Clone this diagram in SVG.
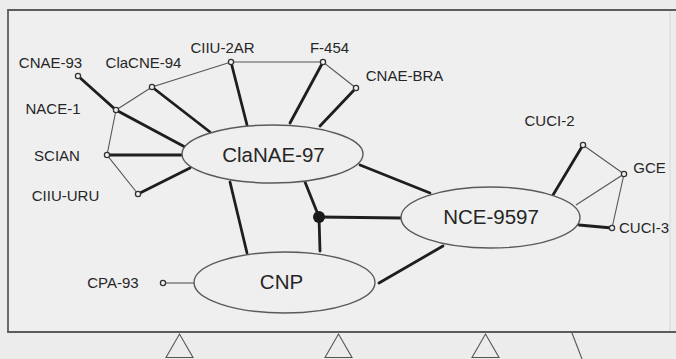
<svg xmlns="http://www.w3.org/2000/svg" width="676" height="359" viewBox="0 0 676 359">
<style>
text{font-family:"Liberation Sans",Arial,sans-serif;fill:#262626;text-anchor:middle}
.s{font-size:15px}
.b{font-size:20.5px}
.thick{stroke:#1e1e1e;stroke-width:2.8;fill:none;stroke-linecap:round}
.thin{stroke:#555;stroke-width:1.1;fill:none}
.pt{fill:#f2f2f2;stroke:#333;stroke-width:1.3}
.ell{fill:#efefef;stroke:#5a5a5a;stroke-width:1.4}
.frame{stroke:#5c5c5c;stroke-width:1.8;fill:none}
</style>
<rect x="0" y="0" width="676" height="359" fill="#ececec"/>
<rect x="8" y="10" width="662" height="322" fill="#efefef"/>
<g id="frame">
<path class="frame" d="M676 10 H8 V332 H676"/>
<line x1="670" y1="11" x2="670" y2="331" stroke="#d8d8d8" stroke-width="1"/>
<path class="thin" d="M166 357.5 L179.5 334 L193 357.5 Z M325 357.5 L338.5 334 L352 357.5 Z M472 357.5 L485.5 334 L499 357.5 Z"/>
<line x1="572" y1="333" x2="582" y2="359" stroke="#555" stroke-width="1.1"/>
</g>
<g id="connectors">
<polyline class="thick" points="78,76 116,110 185,147"/>
<line class="thick" x1="152" y1="87" x2="210" y2="132"/>
<line class="thick" x1="231" y1="62" x2="247" y2="125"/>
<line class="thick" x1="323" y1="62" x2="290" y2="123"/>
<line class="thick" x1="356" y1="88" x2="320" y2="126"/>
<line class="thick" x1="107" y1="155" x2="182" y2="155"/>
<line class="thick" x1="138" y1="194" x2="190" y2="168"/>
<line class="thick" x1="230" y1="182" x2="247" y2="253"/>
<line class="thick" x1="360" y1="165" x2="430" y2="193"/>
<line class="thick" x1="379" y1="283" x2="443" y2="246"/>
<line class="thick" x1="305" y1="182" x2="319" y2="217"/>
<line class="thick" x1="319" y1="217" x2="401" y2="218"/>
<line class="thick" x1="319" y1="217" x2="320" y2="251"/>
<line class="thick" x1="553" y1="195" x2="583" y2="145"/>
<line class="thick" x1="579" y1="225" x2="612" y2="228"/>
<polyline class="thin" points="116,110 152,87 231,62 323,62 356,88"/>
<polyline class="thin" points="116,110 107,155 138,194"/>
<line class="thin" x1="163" y1="283" x2="194" y2="283"/>
<polyline class="thin" points="583,145 624,174 612,228"/>
<line class="thin" x1="576" y1="205" x2="624" y2="174"/>
<circle cx="319" cy="217" r="6" fill="#1a1a1a"/>
</g>
<g id="ClaNAE-97"><ellipse class="ell" cx="272.5" cy="154" rx="90.5" ry="29"/><text class="b" x="273.5" y="162">ClaNAE-97</text></g>
<g id="NCE-9597"><ellipse class="ell" cx="490.5" cy="217.5" rx="89.5" ry="30.5"/><text class="b" x="491" y="224">NCE-9597</text></g>
<g id="CNP"><ellipse class="ell" cx="284.5" cy="282.5" rx="90.5" ry="30.5"/><text class="b" x="281.5" y="289">CNP</text></g>
<g id="CNAE-93"><circle class="pt" cx="78" cy="76" r="2.6"/><text class="s" x="50.5" y="68">CNAE-93</text></g>
<g id="ClaCNE-94"><circle class="pt" cx="152" cy="87" r="2.6"/><text class="s" x="143.5" y="68">ClaCNE-94</text></g>
<g id="CIIU-2AR"><circle class="pt" cx="231" cy="62" r="2.6"/><text class="s" x="222.5" y="53">CIIU-2AR</text></g>
<g id="F-454"><circle class="pt" cx="323" cy="62" r="2.6"/><text class="s" x="329.5" y="53">F-454</text></g>
<g id="CNAE-BRA"><circle class="pt" cx="356" cy="88" r="2.6"/><text class="s" x="404.5" y="81">CNAE-BRA</text></g>
<g id="NACE-1"><circle class="pt" cx="116" cy="110" r="2.6"/><text class="s" x="53" y="114">NACE-1</text></g>
<g id="SCIAN"><circle class="pt" cx="107" cy="155" r="2.6"/><text class="s" x="57" y="161">SCIAN</text></g>
<g id="CIIU-URU"><circle class="pt" cx="138" cy="194" r="2.6"/><text class="s" x="65.5" y="201">CIIU-URU</text></g>
<g id="CPA-93"><circle class="pt" cx="163" cy="283" r="2.6"/><text class="s" x="113" y="288">CPA-93</text></g>
<g id="CUCI-2"><circle class="pt" cx="583" cy="145" r="2.6"/><text class="s" x="549.5" y="126">CUCI-2</text></g>
<g id="GCE"><circle class="pt" cx="624" cy="174" r="2.6"/><text class="s" x="649.5" y="173">GCE</text></g>
<g id="CUCI-3"><circle class="pt" cx="612" cy="228" r="2.6"/><text class="s" x="644" y="233">CUCI-3</text></g>
</svg>
